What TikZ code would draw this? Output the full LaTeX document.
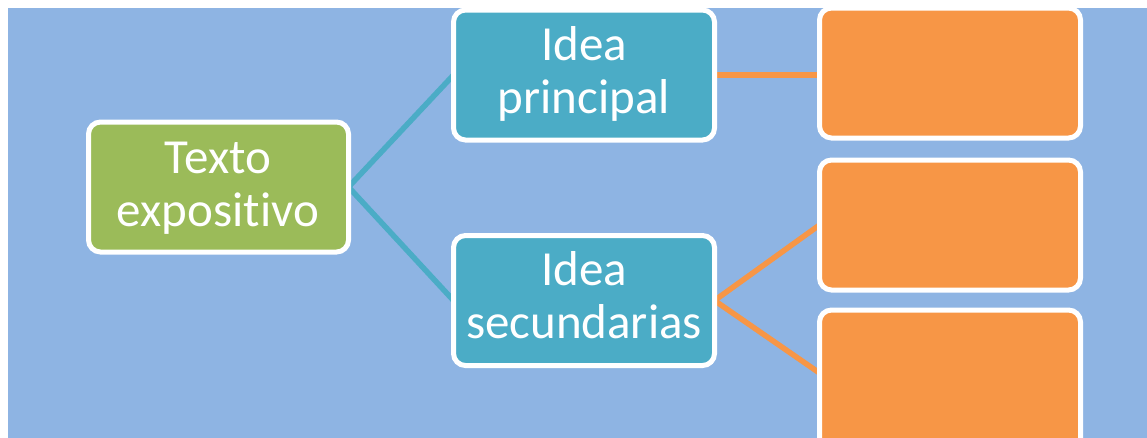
\documentclass[tikz,border=0pt]{standalone}
\usepackage{fontspec}
\setmainfont{Carlito}[RawFeature=-liga]
\usetikzlibrary{backgrounds}
\definecolor{bgblue}{HTML}{8EB4E3}
\definecolor{boxgreen}{HTML}{9BBB59}
\definecolor{boxteal}{HTML}{4BACC6}
\definecolor{boxorange}{HTML}{F79646}
\tikzset{
  box/.style={draw=white, line width=5pt, rounded corners=12pt, minimum width=261pt, minimum height=130pt, inner sep=0pt, outer sep=0pt},
  gbox/.style={box, fill=boxgreen, minimum width=260pt},
  tbox/.style={box, fill=boxteal},
  obox/.style={box, fill=boxorange},
  txt/.style={text=white, anchor=base, inner sep=0pt, font=\fontsize{49}{53}\selectfont},
  tealline/.style={draw=boxteal, line width=5.5pt},
  orangeline/.style={draw=boxorange, line width=5.5pt}
}
\begin{document}
\begin{tikzpicture}[x=1pt,y=-1pt]
\useasboundingbox (0,0) rectangle (1147,437);
\node[gbox] (g) at (218.5,187) {};
\node[tbox] (t1) at (584,75) {};
\node[tbox] (t2) at (584,300.5) {};
\node[obox] (o1) at (950,73) {};
\node[obox] (o2) at (950,225) {};
\node[obox, minimum height=146pt] (o3) at (950,383) {};
\coordinate (o3in) at (950,373);
\node[txt] (gl1) at (218,173) {Texto};
\node[txt] (gl2) at (218,226) {expositivo};
\node[txt] (tl1) at (584,60) {Idea};
\node[txt] (tl2) at (584,113) {principal};
\node[txt] (tl3) at (584,285) {Idea};
\node[txt] (tl4) at (584,338) {secundarias};
\begin{scope}[on background layer]
\fill[bgblue] (8,8) rectangle (1147,438);
\draw[tealline] (g.east) -- (t1.west);
\draw[tealline] (g.east) -- (t2.west);
\draw[orangeline] (t1.east) -- (o1.west |- t1.east);
\draw[orangeline] (t2.east) -- (o2.west);
\draw[orangeline] (t2.east) -- (o3.west |- o3in);
\end{scope}
\end{tikzpicture}
\end{document}
